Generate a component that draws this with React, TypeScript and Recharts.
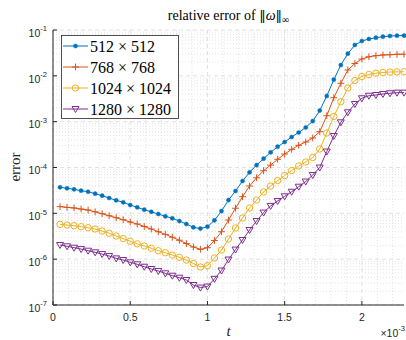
import React from 'react';
import { LineChart, Line, XAxis, YAxis, CartesianGrid, Legend } from 'recharts';

// Sample times, in units of 1e-3 (axis shows a x10^-3 multiplier)
const tMs = [
  0.04545, 0.09091, 0.13636, 0.18182, 0.22727, 0.27273, 0.31818, 0.36364, 0.40909, 0.45455,
  0.5, 0.54545, 0.59091, 0.63636, 0.68182, 0.72727, 0.77273, 0.81818, 0.86364, 0.90909,
  0.95455, 1.0, 1.04545, 1.09091, 1.13636, 1.18182, 1.22727, 1.27273, 1.31818, 1.36364,
  1.40909, 1.45455, 1.5, 1.54545, 1.59091, 1.63636, 1.68182, 1.72727, 1.77273, 1.81818,
  1.86364, 1.90909, 1.95455, 2.0, 2.04545, 2.09091, 2.13636, 2.18182, 2.22727, 2.27273,
];

// Relative error of the vorticity sup-norm for each grid resolution
const err512 = [
  3.70e-5, 3.52e-5, 3.34e-5, 3.12e-5, 2.96e-5, 2.68e-5, 2.43e-5, 2.16e-5, 1.92e-5, 1.74e-5,
  1.52e-5, 1.35e-5, 1.20e-5, 1.08e-5, 9.66e-6, 8.61e-6, 7.78e-6, 6.79e-6, 5.85e-6, 4.95e-6,
  4.65e-6, 5.11e-6, 7.05e-6, 1.12e-5, 1.95e-5, 3.07e-5, 5.07e-5, 7.85e-5, 1.13e-4, 1.56e-4,
  2.14e-4, 2.84e-4, 3.60e-4, 4.63e-4, 5.81e-4, 7.46e-4, 1.03e-3, 1.75e-3, 3.63e-3, 8.24e-3,
  1.72e-2, 3.04e-2, 4.71e-2, 5.75e-2, 6.37e-2, 6.79e-2, 7.14e-2, 7.39e-2, 7.52e-2, 7.55e-2,
];
const err768 = [
  1.40e-5, 1.35e-5, 1.31e-5, 1.24e-5, 1.18e-5, 1.08e-5, 9.82e-6, 8.87e-6, 8.02e-6, 7.26e-6,
  6.47e-6, 5.85e-6, 5.15e-6, 4.55e-6, 3.97e-6, 3.48e-6, 3.01e-6, 2.59e-6, 2.19e-6, 1.84e-6,
  1.64e-6, 1.78e-6, 2.55e-6, 3.97e-6, 7.14e-6, 1.29e-5, 2.31e-5, 3.94e-5, 5.98e-5, 8.51e-5,
  1.13e-4, 1.51e-4, 1.97e-4, 2.49e-4, 3.05e-4, 3.60e-4, 4.40e-4, 6.04e-4, 1.35e-3, 3.33e-3,
  6.87e-3, 1.34e-2, 1.86e-2, 2.33e-2, 2.61e-2, 2.75e-2, 2.85e-2, 2.89e-2, 2.95e-2, 2.96e-2,
];
const err1024 = [
  5.75e-6, 5.56e-6, 5.37e-6, 5.11e-6, 4.85e-6, 4.55e-6, 4.11e-6, 3.68e-6, 3.20e-6, 2.82e-6,
  2.45e-6, 2.16e-6, 1.94e-6, 1.73e-6, 1.53e-6, 1.38e-6, 1.23e-6, 1.10e-6, 9.57e-7, 8.04e-7,
  6.75e-7, 7.19e-7, 1.06e-6, 1.58e-6, 2.75e-6, 4.79e-6, 7.91e-6, 1.31e-5, 1.95e-5, 2.92e-5,
  3.94e-5, 5.20e-5, 6.68e-5, 8.59e-5, 1.08e-4, 1.32e-4, 1.65e-4, 2.53e-4, 5.66e-4, 1.30e-3,
  2.72e-3, 5.42e-3, 7.91e-3, 9.66e-3, 1.07e-2, 1.14e-2, 1.18e-2, 1.21e-2, 1.22e-2, 1.23e-2,
];
const err1280 = [
  2.04e-6, 1.91e-6, 1.78e-6, 1.66e-6, 1.53e-6, 1.41e-6, 1.29e-6, 1.17e-6, 1.04e-6, 9.57e-7,
  8.53e-7, 7.73e-7, 6.84e-7, 6.10e-7, 5.52e-7, 4.91e-7, 4.36e-7, 3.94e-7, 3.51e-7, 2.73e-7,
  2.40e-7, 2.53e-7, 3.72e-7, 5.65e-7, 9.82e-7, 1.62e-6, 2.62e-6, 4.33e-6, 6.79e-6, 1.04e-5,
  1.45e-5, 1.86e-5, 2.35e-5, 2.96e-5, 3.81e-5, 4.94e-5, 6.85e-5, 1.00e-4, 2.23e-4, 4.86e-4,
  9.68e-4, 1.60e-3, 2.43e-3, 3.24e-3, 3.68e-3, 3.82e-3, 4.02e-3, 4.16e-3, 4.29e-3, 4.30e-3,
];

const xTicks = [0, 0.5, 1, 1.5, 2];
const xMinorTicks = [0.1, 0.2, 0.3, 0.4, 0.6, 0.7, 0.8, 0.9, 1.1, 1.2, 1.3, 1.4, 1.6, 1.7, 1.8, 1.9, 2.1, 2.2];
const yTicks = [1e-7, 1e-6, 1e-5, 1e-4, 1e-3, 1e-2, 1e-1];
const yMinorTicks = [
  2e-7, 3e-7, 4e-7, 5e-7, 6e-7, 7e-7, 8e-7, 9e-7,
  2e-6, 3e-6, 4e-6, 5e-6, 6e-6, 7e-6, 8e-6, 9e-6,
  2e-5, 3e-5, 4e-5, 5e-5, 6e-5, 7e-5, 8e-5, 9e-5,
  2e-4, 3e-4, 4e-4, 5e-4, 6e-4, 7e-4, 8e-4, 9e-4,
  2e-3, 3e-3, 4e-3, 5e-3, 6e-3, 7e-3, 8e-3, 9e-3,
  2e-2, 3e-2, 4e-2, 5e-2, 6e-2, 7e-2, 8e-2, 9e-2,
];
const yDomain: [number, number] = [1e-7, 1e-1];

type MarkerShape = 'dot' | 'plus' | 'circle' | 'triangleDown';

const series: { key: string; label: string; color: string; marker: MarkerShape; values: number[] }[] = [
  { key: 'e512', label: '512 × 512', color: '#0072BD', marker: 'dot', values: err512 },
  { key: 'e768', label: '768 × 768', color: '#D95319', marker: 'plus', values: err768 },
  { key: 'e1024', label: '1024 × 1024', color: '#EDB120', marker: 'circle', values: err1024 },
  { key: 'e1280', label: '1280 × 1280', color: '#7E2F8E', marker: 'triangleDown', values: err1280 },
];

const rows = tMs.map((t, i) => {
  const row: Record<string, number> = { t };
  series.forEach((s) => {
    row[s.key] = s.values[i];
  });
  return row;
});

const SANS = "'Liberation Sans', Arial, Helvetica, sans-serif";
const SERIF = "'Liberation Serif', 'Times New Roman', serif";
const AXIS_COLOR = '#262626';

function Marker({ shape, color, cx, cy }: { shape: MarkerShape; color: string; cx: number; cy: number }) {
  switch (shape) {
    case 'dot':
      return <circle cx={cx} cy={cy} r={2.1} fill={color} stroke={color} strokeWidth={0.4} />;
    case 'plus':
      return (
        <g stroke={color} strokeWidth={1}>
          <line x1={cx - 3.4} y1={cy} x2={cx + 3.4} y2={cy} />
          <line x1={cx} y1={cy - 3.4} x2={cx} y2={cy + 3.4} />
        </g>
      );
    case 'circle':
      return <circle cx={cx} cy={cy} r={3.2} fill="none" stroke={color} strokeWidth={1} />;
    case 'triangleDown':
    default:
      return (
        <polygon
          points={`${cx - 3.5},${cy - 2.5} ${cx + 3.5},${cy - 2.5} ${cx},${cy + 3.5}`}
          fill="none"
          stroke={color}
          strokeWidth={1}
          strokeLinejoin="miter"
        />
      );
  }
}

function makeDot(shape: MarkerShape, color: string) {
  return (props: any) => {
    const { cx, cy, index } = props;
    if (cx == null || cy == null || Number.isNaN(cx) || Number.isNaN(cy)) {
      return <g key={`m-${index}`} />;
    }
    return (
      <g key={`m-${index}`}>
        <Marker shape={shape} color={color} cx={cx} cy={cy} />
      </g>
    );
  };
}

// Tick label of the form 10^k
function PowerTick(props: any) {
  const { x, y, payload } = props;
  const exp = Math.round(Math.log10(payload.value));
  return (
    <text x={x} y={y + 6.8} textAnchor="end" fontFamily={SANS} fontSize={10.5} fill={AXIS_COLOR}>
      <tspan>10</tspan>
      <tspan dy={-5.6} fontSize={7.6}>
        {exp}
      </tspan>
    </text>
  );
}

function LegendBox() {
  const rowH = 21;
  return (
    <svg width={119} height={85} style={{ display: 'block' }}>
      <rect x={0.5} y={0.5} width={117} height={83} fill="#ffffff" stroke={AXIS_COLOR} strokeWidth={0.8} />
      {series.map((s, i) => {
        const cy = 11 + i * rowH;
        return (
          <g key={s.key}>
            <line x1={2} y1={cy} x2={27} y2={cy} stroke={s.color} strokeWidth={1} />
            <Marker shape={s.marker} color={s.color} cx={14.5} cy={cy} />
            <text x={29} y={cy + 5.6} fontFamily={SERIF} fontSize={16} fill="#000">
              {s.label}
            </text>
          </g>
        );
      })}
    </svg>
  );
}

const noLabel = () => '';

export default function App() {
  return (
    <div style={{ position: 'absolute', left: 0, top: 0, width: 406, height: 340, background: '#ffffff' }}>
      <LineChart width={406} height={340} data={rows} margin={{ top: 30, right: 2, bottom: 0, left: 0 }}>
        <CartesianGrid
          horizontalValues={yMinorTicks}
          verticalValues={xMinorTicks}
          stroke="#d2d2d2"
          strokeWidth={0.6}
          strokeDasharray="1 2"
        />
        <CartesianGrid
          horizontalValues={yTicks}
          verticalValues={xTicks}
          stroke="#d9d9d9"
          strokeWidth={0.8}
          strokeDasharray="4 3"
        />
        <XAxis
          dataKey="t"
          type="number"
          domain={[0, 'dataMax']}
          ticks={xTicks}
          interval={0}
          height={35}
          tickSize={-4}
          tickMargin={13}
          stroke={AXIS_COLOR}
          tick={{ fontFamily: SANS, fontSize: 10.5, fill: AXIS_COLOR }}
          tickFormatter={(v: number) => String(v)}
        />
        <XAxis
          xAxisId="top"
          orientation="top"
          dataKey="t"
          type="number"
          domain={[0, 'dataMax']}
          ticks={xTicks}
          interval={0}
          height={0}
          tickSize={-4}
          stroke={AXIS_COLOR}
          tickFormatter={noLabel}
        />
        <YAxis
          yAxisId="minorLeft"
          type="number"
          scale="log"
          domain={yDomain}
          allowDataOverflow
          ticks={yMinorTicks}
          interval={0}
          width={0}
          tickSize={-2.5}
          axisLine={false}
          stroke={AXIS_COLOR}
          tickFormatter={noLabel}
        />
        <YAxis
          type="number"
          scale="log"
          domain={yDomain}
          allowDataOverflow
          ticks={yTicks}
          interval={0}
          width={53}
          tickSize={-4}
          tickMargin={10}
          stroke={AXIS_COLOR}
          tick={<PowerTick />}
        />
        <YAxis
          yAxisId="right"
          orientation="right"
          type="number"
          scale="log"
          domain={yDomain}
          allowDataOverflow
          ticks={yTicks}
          interval={0}
          width={0}
          tickSize={-4}
          stroke={AXIS_COLOR}
          tickFormatter={noLabel}
        />
        <YAxis
          yAxisId="minorRight"
          orientation="right"
          type="number"
          scale="log"
          domain={yDomain}
          allowDataOverflow
          ticks={yMinorTicks}
          interval={0}
          width={0}
          tickSize={-2.5}
          axisLine={false}
          stroke={AXIS_COLOR}
          tickFormatter={noLabel}
        />
        {series.map((s) => (
          <Line
            key={s.key}
            type="linear"
            dataKey={s.key}
            name={s.label}
            stroke={s.color}
            strokeWidth={1}
            dot={makeDot(s.marker, s.color)}
            activeDot={false}
            isAnimationActive={false}
          />
        ))}
        <Legend
          layout="vertical"
          align="center"
          verticalAlign="middle"
          wrapperStyle={{ left: 61, top: 35, width: 119, height: 85 }}
          content={() => <LegendBox />}
        />
      </LineChart>
      <svg
        width={406}
        height={340}
        style={{ position: 'absolute', left: 0, top: 0, pointerEvents: 'none' }}
      >
        <text x={228.5} y={20} textAnchor="middle" fontFamily={SERIF} fontSize={14} fill="#000">
          relative error of{' '}
          <tspan fontFamily="'DejaVu Serif', serif" fontSize={13}>‖</tspan>
          <tspan fontStyle="italic">ω</tspan>
          <tspan fontFamily="'DejaVu Serif', serif" fontSize={13}>‖</tspan>
          <tspan dy={3} fontSize={10}>
            ∞
          </tspan>
        </text>
        <text
          transform="translate(20, 167) rotate(-90)"
          textAnchor="middle"
          fontFamily={SERIF}
          fontSize={15}
          fill={AXIS_COLOR}
        >
          error
        </text>
        <text x={228.5} y={336} textAnchor="middle" fontFamily={SERIF} fontStyle="italic" fontSize={15} fill={AXIS_COLOR}>
          t
        </text>
        <text x={405} y={337} textAnchor="end" fontFamily={SANS} fontSize={10.5} fill={AXIS_COLOR}>
          ×10
          <tspan dy={-5.6} fontSize={7.6}>
            -3
          </tspan>
        </text>
      </svg>
    </div>
  );
}
